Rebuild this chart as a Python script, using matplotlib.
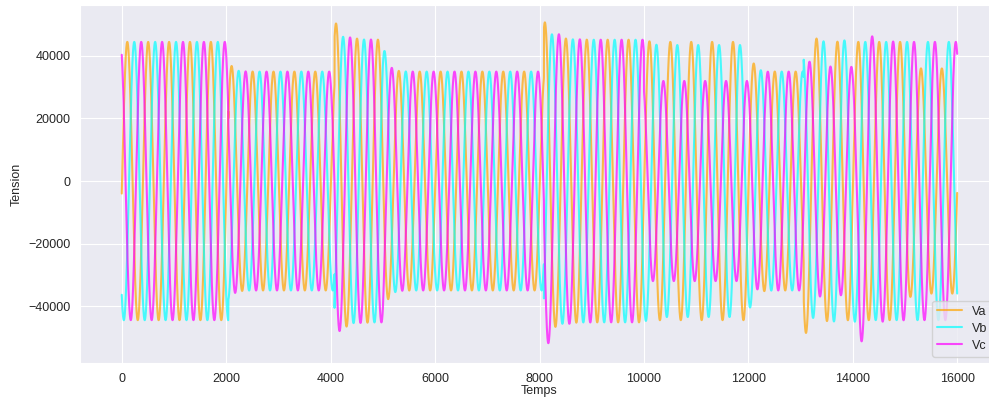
import numpy as np
import matplotlib
matplotlib.use('Agg')
import matplotlib.pyplot as plt
import seaborn as sns

# sampling: 16000 samples, one cycle = 400 samples
n_samples = 16000
period_samples = 400
phase_offset = -0.09  # rad, Va starts slightly below zero and rising

# events (sample index where the regime changes)
event_times = [0, 2040, 4075, 5000, 8085, 10000, 12000, 13060, 14120, 15000]
decay_samples = [1, 80, 150, 80, 150, 80, 80, 150, 150, 50]

# settled amplitude of each phase after each event
amp_va = [44500, 35000, 45200, 35000, 45200, 44500, 35000, 44500, 44500, 36000]
amp_vb = [44500, 35000, 45200, 35000, 45200, 43500, 35000, 45000, 44500, 44500]
amp_vc = [44500, 35000, 45200, 35000, 45200, 32000, 35000, 36500, 44500, 44500]

# amplitude right after each event (overshoot / slow decay)
jump_va = [44500, 39000, 51500, 45200, 51500, 45200, 44500, 50000, 44500, 44500]
jump_vb = [44500, 38000, 48000, 45200, 50000, 45500, 43500, 41000, 44500, 44500]
jump_vc = [44500, 39000, 50500, 45200, 57000, 32000, 32000, 40000, 54000, 44500]

labels = ['Va', 'Vb', 'Vc']
colors = ['orange', 'cyan', 'magenta']


def envelope(t, amps, jumps):
    env = np.zeros_like(t, dtype=float)
    bounds = event_times + [n_samples]
    for i in range(len(event_times)):
        m = (t >= bounds[i]) & (t < bounds[i + 1])
        dt = t[m] - bounds[i]
        env[m] = amps[i] + (jumps[i] - amps[i]) * np.exp(-dt / decay_samples[i])
    return env


t = np.arange(n_samples)
w = 2 * np.pi * t / period_samples + phase_offset
va = envelope(t, amp_va, jump_va) * np.sin(w)
vb = envelope(t, amp_vb, jump_vb) * np.sin(w - 2 * np.pi / 3)
vc = envelope(t, amp_vc, jump_vc) * np.sin(w + 2 * np.pi / 3)

sns.set_style('darkgrid')
plt.rcParams['font.family'] = ['Liberation Sans', 'DejaVu Sans']
plt.rcParams['font.size'] = 9

fig = plt.figure(figsize=(9.89, 3.97), dpi=100)
ax = fig.add_axes([80 / 989, 34 / 397, 919 / 989, 358 / 397])

for v, lab, c in zip([va, vb, vc], labels, colors):
    ax.plot(t, v, color=c, alpha=0.7, linewidth=1.5, label=lab)

ax.set_xlim(-800, 16800)
ax.set_ylim(-58200, 56300)
ax.set_xlabel('Temps', fontsize=9, labelpad=0.5)
ax.set_ylabel('Tension', fontsize=9)
ax.tick_params(labelsize=9)
ax.legend(loc='lower right', fontsize=9, frameon=True, labelspacing=0.4)

fig.savefig('out.png', dpi=100)
